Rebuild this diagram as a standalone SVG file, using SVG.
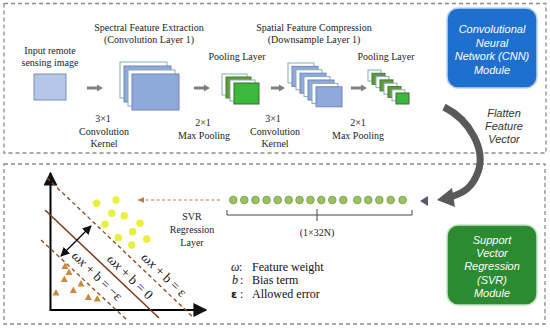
<svg xmlns="http://www.w3.org/2000/svg" width="550" height="329" viewBox="0 0 550 329">
<defs>
<style>
.box{fill:none;stroke:#8c8c8c;stroke-width:1.3;stroke-dasharray:4 3}
.t{font-family:"Liberation Serif","Times New Roman",serif;font-size:10px;fill:#222;text-anchor:middle}
.m{font-family:"Liberation Sans",Arial,sans-serif;font-size:11px;font-style:italic;fill:#fff;text-anchor:middle}
.fl{font-family:"Liberation Sans",Arial,sans-serif;font-size:11px;font-style:italic;fill:#333;text-anchor:middle}
.wb{fill:#fff;stroke:#7fb0b0;stroke-width:1}
.bb{fill:#8eaadb;stroke:#7a7fc0;stroke-width:1}
.gb{fill:#5e9c3a;stroke:#4a7a2c;stroke-width:1}
.gf{fill:#3cb83c;stroke:#3a6a2a;stroke-width:1}
.ga{fill:#7f7f7f}
.yd{fill:#e8f03c}
.tr{fill:#c98b3a}
.gd{fill:#9bc262;stroke:#6f9440;stroke-width:0.8}
.eq{font-family:"Liberation Serif","Times New Roman",serif;font-size:13.5px;fill:#111;text-anchor:middle}
.lg{font-family:"Liberation Serif","Times New Roman",serif;font-size:12px;fill:#111}
</style>
<marker id="ah" viewBox="0 0 10 10" refX="9" refY="5" markerWidth="7" markerHeight="7" orient="auto-start-reverse"><path d="M0,0 L10,5 L0,10 z" fill="#111"/></marker>
<marker id="ahb" viewBox="0 0 10 10" refX="9" refY="5" markerWidth="6" markerHeight="6" orient="auto"><path d="M0,1 L10,5 L0,9 z" fill="#b87a4a"/></marker>
</defs>
<rect width="550" height="329" fill="#fff"/>

<g id="frames">
<rect class="box" x="4" y="3.5" width="542" height="149.5"/>
<rect class="box" x="4" y="164" width="541" height="160"/>
</g>

<g id="input">
<text class="t" x="50" y="53.5">Input remote</text>
<text class="t" x="50" y="65.5">sensing image</text>
<rect x="34" y="74" width="32" height="26" fill="#b4c7e7" stroke="#7f8fb0" stroke-width="1"/>
</g>

<g id="conv1">
<text class="t" x="149" y="31">Spectral Feature Extraction</text>
<text class="t" x="149" y="43">(Convolution Layer 1)</text>
<rect class="wb" x="120" y="62" width="47" height="36"/>
<rect class="bb" x="124" y="66" width="47" height="36"/>
<rect class="wb" x="128" y="70" width="47" height="36"/>
<rect class="bb" x="132" y="74" width="47" height="36"/>
<text class="t" x="103" y="122">3×1</text>
<text class="t" x="104" y="134.5">Convolution</text>
<text class="t" x="104" y="147">Kernel</text>
</g>

<g id="pool1">
<text class="t" x="237" y="60">Pooling Layer</text>
<rect class="wb" x="222" y="74" width="25" height="21"/>
<rect class="gb" x="226" y="77" width="25" height="21"/>
<rect class="wb" x="230" y="80" width="25" height="21"/>
<rect class="gf" x="234" y="83" width="25" height="21"/>
<text class="t" x="203" y="126">2×1</text>
<text class="t" x="204" y="138.5">Max Pooling</text>
</g>

<g id="conv2">
<text class="t" x="314" y="31">Spatial Feature Compression</text>
<text class="t" x="314" y="43">(Downsample Layer 1)</text>
<rect class="wb" x="288" y="63" width="26" height="20"/>
<rect class="bb" x="292" y="66.4" width="26" height="20"/>
<rect class="wb" x="296" y="69.8" width="26" height="20"/>
<rect class="bb" x="300" y="73.2" width="26" height="20"/>
<rect class="wb" x="304" y="76.6" width="26" height="20"/>
<rect class="bb" x="308" y="80" width="26" height="20"/>
<rect class="wb" x="312" y="83.4" width="26" height="20"/>
<rect class="bb" x="316" y="86.8" width="26" height="20"/>
<text class="t" x="273" y="122">3×1</text>
<text class="t" x="275" y="134.5">Convolution</text>
<text class="t" x="275" y="147">Kernel</text>
</g>

<g id="pool2">
<text class="t" x="386" y="60">Pooling Layer</text>
<rect class="wb" x="368" y="70" width="13" height="11"/>
<rect class="gb" x="372" y="73.3" width="13" height="11"/>
<rect class="wb" x="376" y="76.6" width="13" height="11"/>
<rect class="gb" x="380" y="79.9" width="13" height="11"/>
<rect class="wb" x="384" y="83.2" width="13" height="11"/>
<rect class="gb" x="388" y="86.5" width="13" height="11"/>
<rect class="wb" x="392" y="89.8" width="13" height="11"/>
<rect class="gf" x="396" y="93" width="13" height="11"/>
<text class="t" x="358" y="126">2×1</text>
<text class="t" x="358" y="138.5">Max Pooling</text>
</g>

<g id="cnn-module">
<rect x="447" y="8" width="90" height="80" rx="11" fill="#1f6fcf" stroke="#bcd6f2" stroke-width="1.5"/>
<text class="m" x="492" y="33">Convolutional</text>
<text class="m" x="492" y="46.5">Neural</text>
<text class="m" x="492" y="60">Network (CNN)</text>
<text class="m" x="492" y="73.5">Module</text>
</g>

<g id="flatten-label">
<text class="fl" x="504" y="117">Flatten</text>
<text class="fl" x="504" y="130">Feature</text>
<text class="fl" x="504" y="143">Vector</text>
</g>

<g id="svr-module">
<rect x="447" y="225" width="90" height="80" rx="11" fill="#2c8a30" stroke="#c4e6c4" stroke-width="1.5"/>
<text class="m" x="492" y="243.5">Support</text>
<text class="m" x="492" y="257">Vector</text>
<text class="m" x="492" y="270">Regression</text>
<text class="m" x="492" y="283.5">(SVR)</text>
<text class="m" x="492" y="296.5">Module</text>
</g>

<g id="feature-vector">
<g>
<circle class="gd" cx="233.3" cy="200" r="3.8"/>
<circle class="gd" cx="244.3" cy="200" r="3.8"/>
<circle class="gd" cx="255.5" cy="200" r="3.8"/>
<circle class="gd" cx="266.6" cy="200" r="3.8"/>
<circle class="gd" cx="277.7" cy="200" r="3.8"/>
<circle class="gd" cx="288.7" cy="200" r="3.8"/>
<circle class="gd" cx="299.5" cy="200" r="3.8"/>
<circle class="gd" cx="310.4" cy="200" r="3.8"/>
<circle class="gd" cx="321.3" cy="200" r="3.8"/>
<circle class="gd" cx="332.3" cy="200" r="3.8"/>
<circle class="gd" cx="343.3" cy="200" r="3.8"/>
<circle class="gd" cx="357.3" cy="200" r="3.8"/>
<circle class="gd" cx="368.3" cy="200" r="3.8"/>
<circle class="gd" cx="379.3" cy="200" r="3.8"/>
<circle class="gd" cx="390.7" cy="200" r="3.8"/>
<circle class="gd" cx="402.7" cy="200" r="3.8"/>
</g>
<path d="M227 210 V215 H412 V210 M317 209 V221" fill="none" stroke="#444" stroke-width="1"/>
<text class="t" x="317" y="236" font-size="9.5">(1×32N)</text>
</g>

<g id="svr-layer">
<text class="t" x="192" y="220">SVR</text>
<text class="t" x="192" y="233">Regression</text>
<text class="t" x="192" y="246">Layer</text>
</g>

<g id="svr-plot">
<line x1="50.5" y1="310" x2="50.5" y2="173" stroke="#000" stroke-width="2" marker-end="url(#ah)"/>
<line x1="49.5" y1="310" x2="206" y2="310" stroke="#000" stroke-width="2" marker-end="url(#ah)"/>
<line x1="47" y1="178" x2="194" y2="318" stroke="#8b4a1e" stroke-width="1.3" stroke-dasharray="4 3"/>
<line x1="45" y1="210" x2="159" y2="318" stroke="#7a3a1a" stroke-width="1.5"/>
<line x1="41" y1="240" x2="127" y2="320" stroke="#8b4a1e" stroke-width="1.3" stroke-dasharray="4 3"/>
<line x1="61" y1="256" x2="91" y2="226" stroke="#000" stroke-width="1.3" marker-start="url(#ah)" marker-end="url(#ah)"/>
<circle class="yd" cx="96.7" cy="203.3" r="3.7"/>
<circle class="yd" cx="116" cy="200" r="3.7"/>
<circle class="yd" cx="111.7" cy="213.3" r="3.7"/>
<circle class="yd" cx="124.3" cy="215.7" r="3.7"/>
<circle class="yd" cx="105" cy="224.3" r="3.7"/>
<circle class="yd" cx="140" cy="223.3" r="3.7"/>
<circle class="yd" cx="132.7" cy="231.7" r="3.7"/>
<circle class="yd" cx="118.3" cy="237.7" r="3.7"/>
<circle class="yd" cx="146.7" cy="239" r="3.7"/>
<circle class="yd" cx="131.7" cy="245" r="3.7"/>
<polygon class="tr" points="65,262.5 68.5,269 61.5,269"/>
<polygon class="tr" points="69,268.5 72.5,275 65.5,275"/>
<polygon class="tr" points="64.3,275.5 67.8,282 60.8,282"/>
<polygon class="tr" points="81,280 84.5,286.5 77.5,286.5"/>
<polygon class="tr" points="73.3,286.5 76.8,293 69.8,293"/>
<polygon class="tr" points="56,289 59.5,295.5 52.5,295.5"/>
<polygon class="tr" points="88.3,293.5 91.8,300 84.8,300"/>
<polygon class="tr" points="97.3,295 100.8,301.5 93.8,301.5"/>
<text class="eq" transform="translate(94 279) rotate(44)"><tspan font-style="italic">ωx</tspan> + b = −ε</text>
<text class="eq" transform="translate(127 280) rotate(44)"><tspan font-style="italic">ωx</tspan> + b = 0</text>
<text class="eq" transform="translate(161 278) rotate(44)"><tspan font-style="italic">ωx</tspan> + b = ε</text>
</g>

<g id="legend">
<text class="lg" y="270.5"><tspan x="231" font-style="italic">ω</tspan><tspan x="239">:</tspan><tspan x="252">Feature weight</tspan></text>
<text class="lg" y="284"><tspan x="232" font-style="italic">b</tspan><tspan x="240">:</tspan><tspan x="252">Bias term</tspan></text>
<text class="lg" y="298"><tspan x="231" font-family="'DejaVu Sans',sans-serif" font-weight="bold" font-size="11">ε</tspan><tspan x="240">:</tspan><tspan x="252">Allowed error</tspan></text>
</g>

<g id="connectors">
<polygon class="ga" points="87,86.5 97,86.5 97,84.5 103,88 97,91.5 97,89.5 87,89.5"/>
<polygon class="ga" points="194,86.5 204,86.5 204,84.5 210,88 204,91.5 204,89.5 194,89.5"/>
<polygon class="ga" points="271,86.5 279,86.5 279,84.5 285,88 279,91.5 279,89.5 271,89.5"/>
<polygon class="ga" points="351,86.5 361,86.5 361,84.5 367,88 361,91.5 361,89.5 351,89.5"/>
<line x1="220" y1="200" x2="138" y2="200" stroke="#b87a4a" stroke-width="1.2" stroke-dasharray="3 2.5" marker-end="url(#ahb)"/>
<polygon points="420,201 428,196 428,206" fill="#555a6a"/>
<path d="M444 107 C470 120 486 150 478 172 C473 186 465 193 450 197" fill="none" stroke="#595959" stroke-width="7"/>
<polygon points="437,200 452,188 455,207" fill="#595959"/>
</g>
</svg>
